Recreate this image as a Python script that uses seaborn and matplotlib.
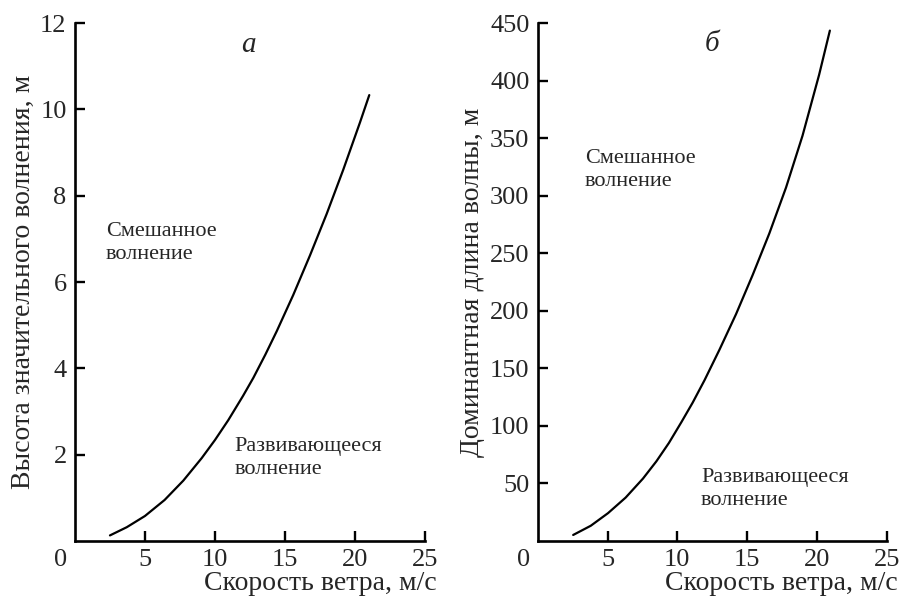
import numpy as np
import pandas as pd
import matplotlib
matplotlib.use("Agg")
import matplotlib.pyplot as plt
import seaborn as sns

# --- data ---
wind_a = [2.5, 3.7, 5.0, 6.4, 7.74, 9.05, 10.0, 10.95, 12.0, 12.74, 13.6,
          14.41, 15.59, 16.79, 17.98, 19.16, 20.36, 21.02]
height_a = [0.13, 0.32, 0.58, 0.95, 1.40, 1.92, 2.34, 2.80, 3.36, 3.78, 4.32,
            4.86, 5.70, 6.62, 7.58, 8.60, 9.70, 10.33]

wind_b = [2.54, 3.8, 5.04, 6.3, 7.54, 8.5, 9.4, 10.29, 11.1, 11.95, 13.02,
          14.21, 15.40, 16.59, 17.79, 18.97, 20.16, 20.93]
length_b = [5.0, 13.0, 24.0, 37.5, 54.0, 69.0, 85.0, 103.0, 120.0, 139.5, 166.0,
            197.0, 231.0, 267.0, 307.0, 352.0, 405.0, 443.4]

x_ticks = [5, 10, 15, 20, 25]
y_ticks_a = [2, 4, 6, 8, 10, 12]
y_ticks_b = [50, 100, 150, 200, 250, 300, 350, 400, 450]

xlabel = "Скорость ветра, м/с"
ylabel_a = "Высота значительного волнения, м"
ylabel_b = "Доминантная длина волны, м"
panel_a = "а"
panel_b = "б"
mixed = "Смешанное\nволнение"
developing = "Развивающееся\nволнение"

sns.set_style("ticks")
plt.rcParams["font.family"] = ["Liberation Serif", "DejaVu Serif"]

fig = plt.figure(figsize=(9.01, 5.99), dpi=100)
ax1 = fig.add_axes([0.0832, 0.0968, 0.3885, 0.8648])
ax2 = fig.add_axes([0.5968, 0.0973, 0.3873, 0.8643])

df_a = pd.DataFrame({"u": wind_a, "v": height_a})
df_b = pd.DataFrame({"u": wind_b, "v": length_b})

sns.lineplot(data=df_a, x="u", y="v", ax=ax1, color="black", lw=1.6, sort=False)
sns.lineplot(data=df_b, x="u", y="v", ax=ax2, color="black", lw=1.6, sort=False)

specs = [
    (ax1, 12, y_ticks_a, ylabel_a, -0.112, 1.034, panel_a, (12.4, 11.5), (2.2, 6.91), (11.4, 1.92)),
    (ax2, 450, y_ticks_b, ylabel_b, -0.152, 1.032, panel_b, (12.5, 432), (3.38, 322), (11.7, 45)),
]
for ax, ymax, yt, yl, ylx, xlx, pl, ppos, mpos, dpos in specs:
    ax.set_xlim(0, 25)
    ax.set_ylim(0, ymax)
    ax.set_xticks(x_ticks)
    ax.set_yticks(yt)
    ax.tick_params(direction="in", length=7, width=1.7, labelsize=19, pad=6, color="black")
    for s in ["top", "right"]:
        ax.spines[s].set_visible(False)
    for s in ["left", "bottom"]:
        ax.spines[s].set_linewidth(1.9)
        ax.spines[s].set_color("black")
    ax.set_xlabel(xlabel, fontsize=20, ha="right")
    ax.xaxis.set_label_coords(xlx, -0.058)
    ax.set_ylabel(yl, fontsize=20)
    ax.yaxis.set_label_coords(ylx, 0.5)
    ax.annotate("0", xy=(0, 0), xytext=(-14, -19), textcoords="offset pixels",
                ha="center", va="center", fontsize=19)
    ax.text(ppos[0], ppos[1], pl, fontsize=21, style="italic", ha="center", va="center")
    ax.text(mpos[0], mpos[1], mixed, fontsize=16, ha="left", va="center", linespacing=1.3)
    ax.text(dpos[0], dpos[1], developing, fontsize=16, ha="left", va="center", linespacing=1.3)

fig.savefig("out.png", dpi=100)
